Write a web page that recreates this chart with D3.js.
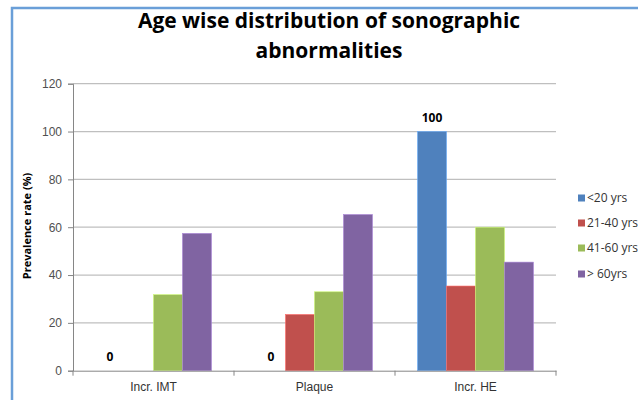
<!DOCTYPE html>
<html>
<head>
<meta charset="utf-8">
<script src="https://cdn.jsdelivr.net/npm/d3@7"></script>
<style>
  body { margin: 0; background: #fff; }
  svg { display: block; font-family: 'Open Sans', 'Liberation Sans', sans-serif; }
</style>
</head>
<body>
<svg id="chart"></svg>
<script>
// chart data
let categories = ['Incr. IMT', 'Plaque', 'Incr. HE']
let seriesNames = ['<20 yrs', '21-40 yrs', '41-60 yrs', '> 60yrs']
let under20 = [0, 0, 100]
let age21to40 = [0, 23.5, 35.4]
let age41to60 = [31.8, 33, 60]
let over60 = [57.4, 65.3, 45.4]
let yTicks = [0, 20, 40, 60, 80, 100, 120]
let titleLines = ['Age wise distribution of sonographic', 'abnormalities']

let colors = ['#4f81bd', '#c0504d', '#9bbb59', '#8064a2']

let width = 638
let height = 400
let plotLeft = 73
let plotRight = 556
let plotTop = 83.7
let plotBottom = 370.7

let series = [under20, age21to40, age41to60, over60]

let svg = d3.select('#chart')
            .attr('width', width)
            .attr('height', height)

// outer frame (only top and left edges visible)
svg.append('path')
   .attr('d', `M12,${height + 5} L12,8 L${width + 5},8`)
   .attr('fill', 'none')
   .attr('stroke', '#6a9fd8')
   .attr('stroke-width', 2.5)

let xScale = d3.scaleBand()
               .domain(categories)
               .range([plotLeft, plotRight])
               .paddingInner(0.28)
               .paddingOuter(0.14)

let xInner = d3.scaleBand()
               .domain(d3.range(seriesNames.length))
               .range([0, xScale.bandwidth()])

let yScale = d3.scaleLinear()
               .domain([0, 120])
               .range([plotBottom, plotTop])

// gridlines
svg.append('g')
   .selectAll('line')
   .data(yTicks.slice(1))
   .enter()
   .append('line')
   .attr('x1', plotLeft)
   .attr('x2', plotRight)
   .attr('y1', (d) => yScale(d))
   .attr('y2', (d) => yScale(d))
   .attr('stroke', '#bfbfbf')
   .attr('stroke-width', 1.2)

// bars
series.forEach((values, s) => {
  svg.append('g')
     .selectAll('rect')
     .data(values)
     .enter()
     .append('rect')
     .attr('x', (d, i) => xScale(categories[i]) + xInner(s))
     .attr('y', (d) => yScale(d))
     .attr('width', xInner.bandwidth())
     .attr('height', (d) => plotBottom - yScale(d))
     .attr('fill', colors[s])
     .attr('stroke', d3.color(colors[s]).brighter(0.8))
     .attr('stroke-width', 0.6)
})

// data labels on the first series
svg.append('g')
   .selectAll('text')
   .data(under20)
   .enter()
   .append('text')
   .attr('x', (d, i) => xScale(categories[i]) + xInner(0) + xInner.bandwidth() / 2)
   .attr('y', (d) => yScale(d) - 10)
   .attr('text-anchor', 'middle')
   .style('font-size', '12px')
   .style('font-weight', 'bold')
   .attr('fill', '#000')
   .text((d) => d)

// y axis
let yAxis = d3.axisLeft(yScale)
              .tickValues(yTicks)
              .tickSize(5)
              .tickPadding(6)
let yg = svg.append('g')
            .attr('transform', `translate(${plotLeft},0)`)
            .call(yAxis)
yg.select('.domain').attr('stroke', '#868686')
yg.selectAll('.tick line').attr('stroke', '#868686')
yg.selectAll('.tick text').attr('fill', '#505050').style('font-size', '12px')

// x axis
let xAxis = d3.axisBottom(xScale).tickSize(0).tickPadding(12)
let xg = svg.append('g')
            .attr('transform', `translate(0,${plotBottom})`)
            .call(xAxis)
xg.select('.domain').attr('stroke', '#868686')
xg.selectAll('.tick text').attr('fill', '#333').style('font-size', '12px')

// category boundary ticks
let step = xScale.step()
xg.selectAll('.bound')
  .data(d3.range(categories.length + 1))
  .enter()
  .append('line')
  .attr('class', 'bound')
  .attr('x1', (d) => plotLeft + d * step)
  .attr('x2', (d) => plotLeft + d * step)
  .attr('y1', 0)
  .attr('y2', 5)
  .attr('stroke', '#868686')

// y axis title
svg.append('text')
   .attr('transform', `translate(31,226) rotate(-90)`)
   .attr('text-anchor', 'middle')
   .style('font-size', '11px')
   .style('font-weight', 'bold')
   .attr('fill', '#000')
   .text('Prevalence rate (%)')

// title
svg.append('text')
   .attr('x', 329)
   .attr('y', 28)
   .attr('text-anchor', 'middle')
   .style('font-size', '21px')
   .style('font-weight', 'bold')
   .attr('fill', '#000')
   .selectAll('tspan')
   .data(titleLines)
   .enter()
   .append('tspan')
   .attr('x', 329)
   .attr('dy', (d, i) => i == 0 ? 0 : 30)
   .text((d) => d)

// legend
let legendY = [198, 223, 248, 274]
let legend = svg.append('g')
                .selectAll('g')
                .data(seriesNames)
                .enter()
                .append('g')
                .attr('transform', (d, i) => `translate(578,${legendY[i]})`)
legend.append('rect')
      .attr('x', 0)
      .attr('y', -3.5)
      .attr('width', 7)
      .attr('height', 7)
      .attr('fill', (d, i) => colors[i])
legend.append('text')
      .attr('x', 9)
      .attr('y', 4)
      .style('font-size', '12px')
      .attr('fill', '#333')
      .text((d) => d)
</script>
</body>
</html>
